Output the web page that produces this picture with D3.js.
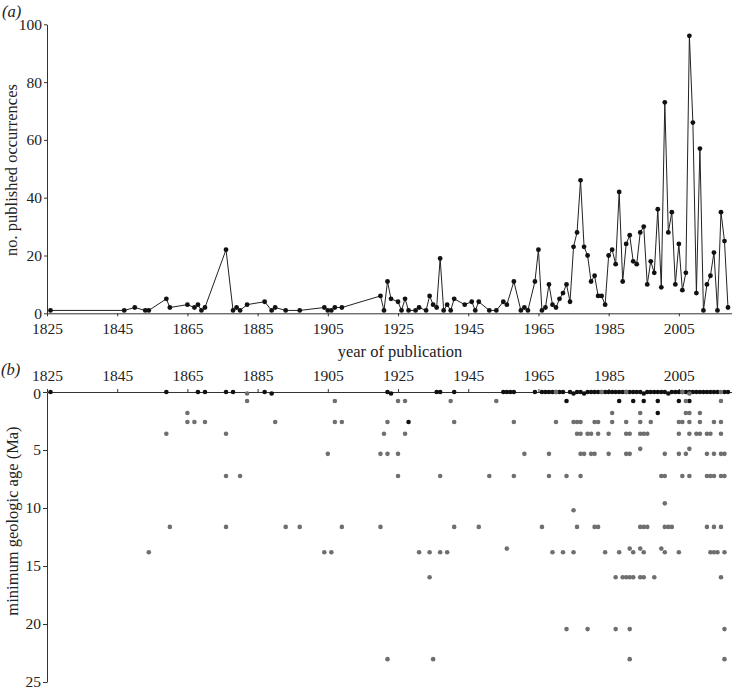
<!DOCTYPE html>
<html><head><meta charset="utf-8">
<script src="https://cdn.jsdelivr.net/npm/d3@7"></script>
<style>
body{margin:0;background:#fff}
text{font-family:"Liberation Serif","Times New Roman",serif;fill:#222}
</style>
</head><body><svg id="c" width="734" height="691"></svg>
<script>
// ---------- DATA ----------
const yearTicks = [1825, 1845, 1865, 1885, 1905, 1925, 1945, 1965, 1985, 2005];
const countTicks = [0, 20, 40, 60, 80, 100];
const ageTicks = [0, 5, 10, 15, 20, 25];

// panel (a): publication years and number of published occurrences
const pubYears = [1826,1847,1850,1853,1854,1859,1860,1865,1867,1868,1869,1870,1876,1878,1879,1880,1882,1887,1889,1890,1893,1897,1904,1905,1906,1907,1909,
  1920,1921,1922,1923,1925,1926,1927,1928,1930,1931,1933,1934,1935,1936,1937,1938,1939,1940,1941,1944,1946,1947,1948,1951,1953,1955,1956,1958,1960,1961,1962,1964,
  1965,1966,1967,1968,1969,1970,1971,1972,1973,1974,1975,1976,1977,1978,1979,1980,1981,1982,1983,1984,1985,1986,1987,1988,1989,1990,1991,1992,1993,1994,1995,1996,
  1997,1998,1999,2000,2001,2002,2003,2004,2005,2006,2007,2008,2009,2010,2011,2012,2013,2014,2015,2016,2017,2018,2019];
const pubCounts = [1,1,2,1,1,5,2,3,2,3,1,2,22,1,2,1,3,4,1,2,1,1,2,1,1,2,2,
  6,1,11,5,4,1,5,1,1,2,1,6,3,2,19,1,3,1,5,3,4,1,4,1,1,4,3,11,1,2,1,11,
  22,1,2,10,3,2,5,7,10,4,23,28,46,23,20,11,13,6,6,3,20,22,17,42,11,24,27,18,17,28,30,10,
  18,14,36,9,73,28,35,10,24,8,14,96,66,7,57,1,10,13,21,1,35,25,2];

// panel (b): [year, minimum geologic age (Ma)]
const blackPoints = [
  [1826,0],[1859,0],[1868,0],[1870,0],[1876,0],[1878,0],[1887,0],[1889,0.126],
  [1922,0],[1923,0.126],[1936,0],[1937,0],[1941,0],[1955,0],[1956,0],[1957,0],[1958,0],[1964,0],
  [1966,0],[1967,0],[1968,0],[1969,0],[1970,0],[1971,0],[1972,0],
  [1974,0],[1975,0.126],[1976,0],[1977,0],[1978,0.126],[1979,0],[1980,0],[1981,0],[1982,0],[1983,0],[1984,0],
  [1985,0],[1986,0],[1987,0],[1988,0],[1989,0],[1990,0],[1991,0],[1992,0],[1993,0],[1994,0],[1995,0.126],
  [1996,0],[1997,0],[1998,0],[1999,0],[2000,0],[2001,0],[2002,0.126],[2003,0],[2004,0],[2005,0],[2006,0],
  [2007,0],[2008,0],[2009,0],[2010,0],[2011,0],[2012,0],[2013,0],[2014,0],[2015,0],[2016,0],[2018,0],[2019,0],
  [1928,2.588],[1973,0.781],[1988,0.781],[1992,0.781],[1995,0.781],[1999,0.781],[2005,0.781],[2008,0.781],[1999,1.806]
];
const grayPoints = [
  [1882,0.126],[1970,0],[1983,0],[1990,0],[2006,0],[2008,0.126],[2017,0],
  [1882,0.781],[1907,0.781],[1925,0.781],[1927,0.781],[1940,0.781],[1953,0.781],[2007,0.781],[2017,0.781],
  [1865,1.806],[1986,1.806],[1994,1.806],[2007,1.806],[2008,1.806],[2011,1.806],
  [1865,2.588],[1867,2.588],[1870,2.588],[1890,2.588],[1907,2.588],[1909,2.588],[1922,2.588],[1941,2.588],[1958,2.588],
  [1970,2.588],[1975,2.588],[1976,2.588],[1977,2.588],[1981,2.588],[1982,2.588],[1986,2.588],[1990,2.588],[1994,2.588],
  [1997,2.588],[2005,2.588],[2006,2.588],[2008,2.588],[2011,2.588],[2015,2.588],[2017,2.588],
  [1859,3.6],[1876,3.6],[1921,3.6],[1927,3.6],[1976,3.6],[1977,3.6],[1979,3.6],[1980,3.6],[1982,3.6],[1985,3.6],
  [1990,3.6],[1991,3.6],[1994,3.6],[1995,3.6],[1996,3.6],[2005,3.6],[2008,3.6],[2010,3.6],[2011,3.6],[2013,3.6],[2014,3.6],[2017,3.6],
  [1994,4.9],[2008,4.9],
  [1905,5.333],[1920,5.333],[1922,5.333],[1925,5.333],[1961,5.333],[1968,5.333],[1977,5.333],[1978,5.333],[1980,5.333],
  [1981,5.333],[1985,5.333],[1990,5.333],[1991,5.333],[2001,5.333],[2005,5.333],[2007,5.333],[2013,5.333],[2015,5.333],[2017,5.333],[2018,5.333],
  [1876,7.246],[1880,7.246],[1925,7.246],[1937,7.246],[1951,7.246],[1958,7.246],[1968,7.246],[1973,7.246],[1977,7.246],
  [2000,7.246],[2001,7.246],[2006,7.246],[2008,7.246],[2013,7.246],[2014,7.246],[2015,7.246],[2017,7.246],[2018,7.246],
  [2001,9.6],[1975,10.2],
  [1860,11.63],[1876,11.63],[1893,11.63],[1897,11.63],[1909,11.63],[1920,11.63],[1941,11.63],[1948,11.63],[1966,11.63],
  [1976,11.63],[1981,11.63],[1982,11.63],[1994,11.63],[1995,11.63],[1996,11.63],[2001,11.63],[2002,11.63],[2003,11.63],
  [2013,11.63],[2015,11.63],[2017,11.63],
  [1854,13.82],[1904,13.82],[1906,13.82],[1931,13.82],[1934,13.82],[1937,13.82],[1939,13.82],[1969,13.82],[1972,13.82],
  [1975,13.82],[1984,13.82],[1988,13.82],[1992,13.82],[1995,13.82],[2001,13.82],[2005,13.82],[2014,13.82],[2015,13.82],
  [2016,13.82],[2018,13.82],
  [1956,13.5],[1991,13.5],[1994,13.5],[2000,13.5],
  [1934,15.97],[1987,15.97],[1989,15.97],[1990,15.97],[1991,15.97],[1992,15.97],[1994,15.97],[1995,15.97],[1998,15.97],[2017,15.97],
  [1973,20.44],[1979,20.44],[1987,20.44],[1991,20.44],[2018,20.44],
  [1922,23.03],[1935,23.03],[1991,23.03],[2018,23.03]
];

// ---------- DRAW ----------
const svg = d3.select("#c");
const x = d3.scaleLinear().domain([1825, 2020]).range([47, 731.5]);
const yA = d3.scaleLinear().domain([0, 100]).range([313.3, 24.3]);
const yB = d3.scaleLinear().domain([0, 25]).range([392, 682]);
const FS = "15.5px";
const TS = "16.5px";

function styleAxis(g){
  g.selectAll("path.domain").attr("stroke","#333").attr("stroke-width",1);
  g.selectAll(".tick line").attr("stroke","#333");
  g.selectAll(".tick text").attr("font-family",'"Liberation Serif",serif').attr("font-size",FS).attr("fill","#222");
}

// panel (a)
svg.append("g").attr("transform","translate(0,313.3)")
  .call(d3.axisBottom(x).tickValues(yearTicks).tickFormat(d3.format("d")).tickSize(3).tickSizeOuter(0).tickPadding(7))
  .call(styleAxis);
svg.append("g").attr("transform","translate(47,0)")
  .call(d3.axisLeft(yA).tickValues(countTicks).tickSize(3).tickSizeOuter(0).tickPadding(2))
  .call(styleAxis);

const ptsA = pubYears.map((yr,i)=>[yr,pubCounts[i]]);
svg.append("path").datum(ptsA)
  .attr("fill","none").attr("stroke","#222").attr("stroke-width",1)
  .attr("d", d3.line().x(d=>x(d[0])).y(d=>yA(d[1])));
svg.append("g").selectAll("circle").data(ptsA).join("circle")
  .attr("cx",d=>x(d[0])).attr("cy",d=>yA(d[1])).attr("r",2.4).attr("fill","#111");

svg.append("text").attr("x",2).attr("y",17).attr("font-style","italic").attr("font-size",TS).text("(a)");
svg.append("text").attr("transform","translate(17,170) rotate(-90)").attr("text-anchor","middle")
  .attr("font-size",TS).text("no. published occurrences");
svg.append("text").attr("x",400).attr("y",357).attr("text-anchor","middle").attr("font-size",TS).text("year of publication");

// panel (b)
svg.append("g").attr("transform","translate(0,392)")
  .call(d3.axisTop(x).tickValues(yearTicks).tickFormat(d3.format("d")).tickSize(3).tickSizeOuter(0).tickPadding(8))
  .call(styleAxis);
const gyB = svg.append("g").attr("transform","translate(47,0)")
  .call(d3.axisLeft(yB).tickValues(ageTicks).tickSize(4).tickSizeOuter(0).tickPadding(2))
  .call(styleAxis);
gyB.selectAll(".tick text").filter(d=>d===0).attr("dy","0.42em");

svg.append("g").selectAll("circle").data(blackPoints).join("circle")
  .attr("cx",d=>x(d[0])).attr("cy",d=>yB(d[1])).attr("r",2.3).attr("fill","#111");
svg.append("g").selectAll("circle").data(grayPoints).join("circle")
  .attr("cx",d=>x(d[0])).attr("cy",d=>yB(d[1])).attr("r",2.3).attr("fill","#6f6f6f");

svg.append("text").attr("x",1).attr("y",375).attr("font-style","italic").attr("font-size",TS).text("(b)");
svg.append("text").attr("transform","translate(18,521) rotate(-90)").attr("text-anchor","middle")
  .attr("font-size",TS).text("minimum geologic age (Ma)");
</script></body></html>
